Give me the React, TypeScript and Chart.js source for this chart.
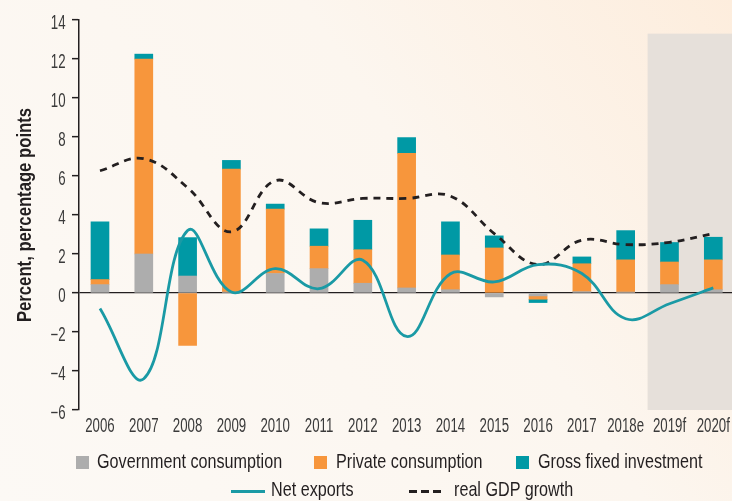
import React, { useEffect, useRef } from "react";
import { Chart, registerables } from "chart.js";

Chart.register(...registerables);

const categories = ["2006", "2007", "2008", "2009", "2010", "2011", "2012", "2013", "2014", "2015", "2016", "2017", "2018e", "2019f", "2020f"];
const govCons = [0.43, 2.0, 0.87, 0.05, 1.0, 1.25, 0.5, 0.26, 0.17, -0.2, -0.15, 0.07, 0.05, 0.43, 0.17];
const privCons = [0.26, 10.0, -2.69, 6.3, 3.3, 1.15, 1.72, 6.9, 1.78, 2.31, -0.17, 1.43, 1.65, 1.16, 1.53];
const grossFixedInv = [2.96, 0.25, 1.97, 0.45, 0.26, 0.89, 1.51, 0.81, 1.7, 0.62, -0.17, 0.35, 1.5, 1.0, 1.16];
const netExports = [-0.8, -4.4, 3.2, 0.05, 1.25, 0.22, 1.68, -2.23, 0.99, 0.57, 1.46, 1.0, -1.32, -0.55, 0.26];
const gdpGrowth = [6.27, 6.89, 5.4, 3.14, 5.76, 4.63, 4.85, 4.85, 4.97, 3.05, 1.46, 2.71, 2.48, 2.6, 3.05];
const yTicks = [-6, -4, -2, 0, 2, 4, 6, 8, 10, 12, 14];
const yTitle = "Percent, percentage points";
const forecastStartIndex = 13;
const forecastShadeTop = 13.3;

const COLORS = {
  gov: "#adadad",
  priv: "#f7963c",
  gfi: "#0099a5",
  nx: "#1a9aa5",
  gdp: "#231f20",
  tick: "#3a3a3a",
  text: "#231f20",
};

const FONT = "'Liberation Sans', Arial, sans-serif";
const TICK_SIZE = 19.5;
const TICK_SX = 0.68;
const TITLE_SIZE = 20;
const TITLE_SX = 0.834;
const LEGEND_SIZE = 21;
const LEGEND_SX = 0.77;

const toXY = (arr: number[]) => arr.map((v, i) => ({ x: i, y: v }));

export default function App() {
  const ref = useRef<HTMLCanvasElement | null>(null);

  useEffect(() => {
    if (!ref.current) return;
    const bgPlugin = {
      id: "bgShade",
      beforeDraw(chart: any) {
        const { ctx, width, height, scales } = chart;
        ctx.save();
        const g = ctx.createLinearGradient(0, height, width, 0);
        g.addColorStop(0, "#fcf9f5");
        g.addColorStop(0.6, "#fcf6ef");
        g.addColorStop(1, "#fdeddd");
        ctx.fillStyle = g;
        ctx.fillRect(0, 0, width, height);
        const xs = scales.x;
        const ys = scales.y;
        const x0 = xs.getPixelForValue(forecastStartIndex - 0.5);
        const yTop = ys.getPixelForValue(forecastShadeTop);
        const yBot = ys.getPixelForValue(-6);
        ctx.fillStyle = "#e6e0da";
        ctx.fillRect(x0, yTop, width - x0, yBot - yTop);
        ctx.restore();
      },
    };

    const labelPlugin = {
      id: "condensedLabels",
      afterDraw(chart: any) {
        const { ctx, scales } = chart;
        const xs = scales.x;
        const ys = scales.y;
        ctx.save();
        ctx.fillStyle = COLORS.tick;
        ctx.font = `${TICK_SIZE}px ${FONT}`;
        ctx.textBaseline = "alphabetic";
        categories.forEach((c, i) => {
          ctx.save();
          ctx.translate(xs.getPixelForValue(i), ys.bottom + 21.5);
          ctx.scale(TICK_SX, 1);
          ctx.textAlign = "center";
          ctx.fillText(c, 0, 0);
          ctx.restore();
        });
        yTicks.forEach((v) => {
          ctx.save();
          ctx.translate(ys.right - 13.5, ys.getPixelForValue(v) + 8.8);
          ctx.scale(TICK_SX, 1);
          ctx.textAlign = "right";
          ctx.fillText(String(v).replace("-", "\u2212"), 0, 0);
          ctx.restore();
        });
        ctx.save();
        ctx.fillStyle = COLORS.text;
        ctx.font = `bold ${TITLE_SIZE}px ${FONT}`;
        ctx.translate(31, (ys.top + ys.bottom) / 2);
        ctx.rotate(-Math.PI / 2);
        ctx.scale(TITLE_SX, 1);
        ctx.textAlign = "center";
        ctx.fillText(yTitle, 0, 0);
        ctx.restore();
        ctx.restore();
      },
    };

    const chart = new Chart(ref.current, {
      type: "bar",
      data: {
        datasets: [
          {
            type: "line",
            label: "Net exports",
            data: toXY(netExports),
            borderColor: COLORS.nx,
            borderWidth: 2.8,
            pointRadius: 0,
            tension: 0.4,
            fill: false,
            stack: "nx",
            order: 0,
          } as any,
          {
            type: "line",
            label: "real GDP growth",
            data: toXY(gdpGrowth),
            borderColor: COLORS.gdp,
            borderWidth: 2.8,
            borderDash: [7, 6],
            pointRadius: 0,
            tension: 0.4,
            fill: false,
            stack: "gdp",
            order: 0,
          } as any,
          {
            label: "Government consumption",
            data: toXY(govCons),
            backgroundColor: COLORS.gov,
            barThickness: 18,
            stack: "bars",
            order: 1,
          },
          {
            label: "Private consumption",
            data: toXY(privCons),
            backgroundColor: COLORS.priv,
            barThickness: 18,
            stack: "bars",
            order: 1,
          },
          {
            label: "Gross fixed investment",
            data: toXY(grossFixedInv),
            backgroundColor: COLORS.gfi,
            barThickness: 18,
            stack: "bars",
            order: 1,
          },
        ],
      },
      options: {
        responsive: false,
        animation: false,
        layout: { padding: { left: 0, right: 0, top: 20, bottom: 61 } },
        plugins: { legend: { display: false }, tooltip: { enabled: false } },
        scales: {
          x: {
            type: "linear",
            offset: false,
            min: -0.479,
            max: 14.427,
            grid: { display: false, offset: false },
            border: { display: false },
            afterBuildTicks: (s: any) => {
              s.ticks = categories.map((_, i) => ({ value: i }));
            },
            afterFit: (s: any) => {
              s.height = 30;
              s.paddingLeft = 0;
              s.paddingRight = 0;
            },
            ticks: { display: false },
          },
          y: {
            type: "linear",
            stacked: true,
            min: -6,
            max: 14,
            afterBuildTicks: (s: any) => {
              s.ticks = yTicks.map((v) => ({ value: v }));
            },
            afterFit: (s: any) => {
              s.width = 79;
              s.paddingTop = 0;
              s.paddingBottom = 0;
            },
            border: { display: true, color: "#231f20", width: 1.5 },
            grid: {
              drawOnChartArea: true,
              drawTicks: true,
              tickLength: 7,
              tickColor: "#231f20",
              tickWidth: 1.5,
              color: (ctx: any) => (ctx.tick && ctx.tick.value === 0 ? "#231f20" : "rgba(0,0,0,0)"),
              lineWidth: 1.3,
            },
            ticks: { display: false },
          },
        },
      },
      plugins: [bgPlugin, labelPlugin],
    } as any);
    return () => chart.destroy();
  }, []);

  const legendText = (left: number, top: number): React.CSSProperties => ({
    position: "absolute",
    left,
    top,
    fontFamily: FONT,
    fontSize: LEGEND_SIZE,
    color: COLORS.text,
    lineHeight: "24px",
    whiteSpace: "nowrap",
    transform: `scaleX(${LEGEND_SX})`,
    transformOrigin: "0 0",
  });
  const box = (left: number, top: number, color: string): React.CSSProperties => ({
    position: "absolute",
    left,
    top,
    width: 13,
    height: 13,
    background: color,
  });
  const dash = (left: number): React.CSSProperties => ({
    position: "absolute",
    left,
    top: 490,
    width: 8,
    height: 3,
    background: COLORS.gdp,
  });

  return (
    <div style={{ position: "fixed", left: 0, top: 0, width: 732, height: 501, overflow: "hidden" }}>
      <canvas ref={ref} width={732} height={501} style={{ display: "block" }} />
      <div style={box(76, 456, COLORS.gov)} />
      <div style={legendText(97, 449)}>Government consumption</div>
      <div style={box(314, 456, COLORS.priv)} />
      <div style={legendText(336, 449)}>Private consumption</div>
      <div style={box(516, 456, COLORS.gfi)} />
      <div style={legendText(538, 449)}>Gross fixed investment</div>
      <div style={{ position: "absolute", left: 231, top: 490, width: 34, height: 3, background: COLORS.nx }} />
      <div style={legendText(271, 477)}>Net exports</div>
      <div style={dash(409)} />
      <div style={dash(421)} />
      <div style={dash(433)} />
      <div style={legendText(454, 477)}>real GDP growth</div>
    </div>
  );
}
